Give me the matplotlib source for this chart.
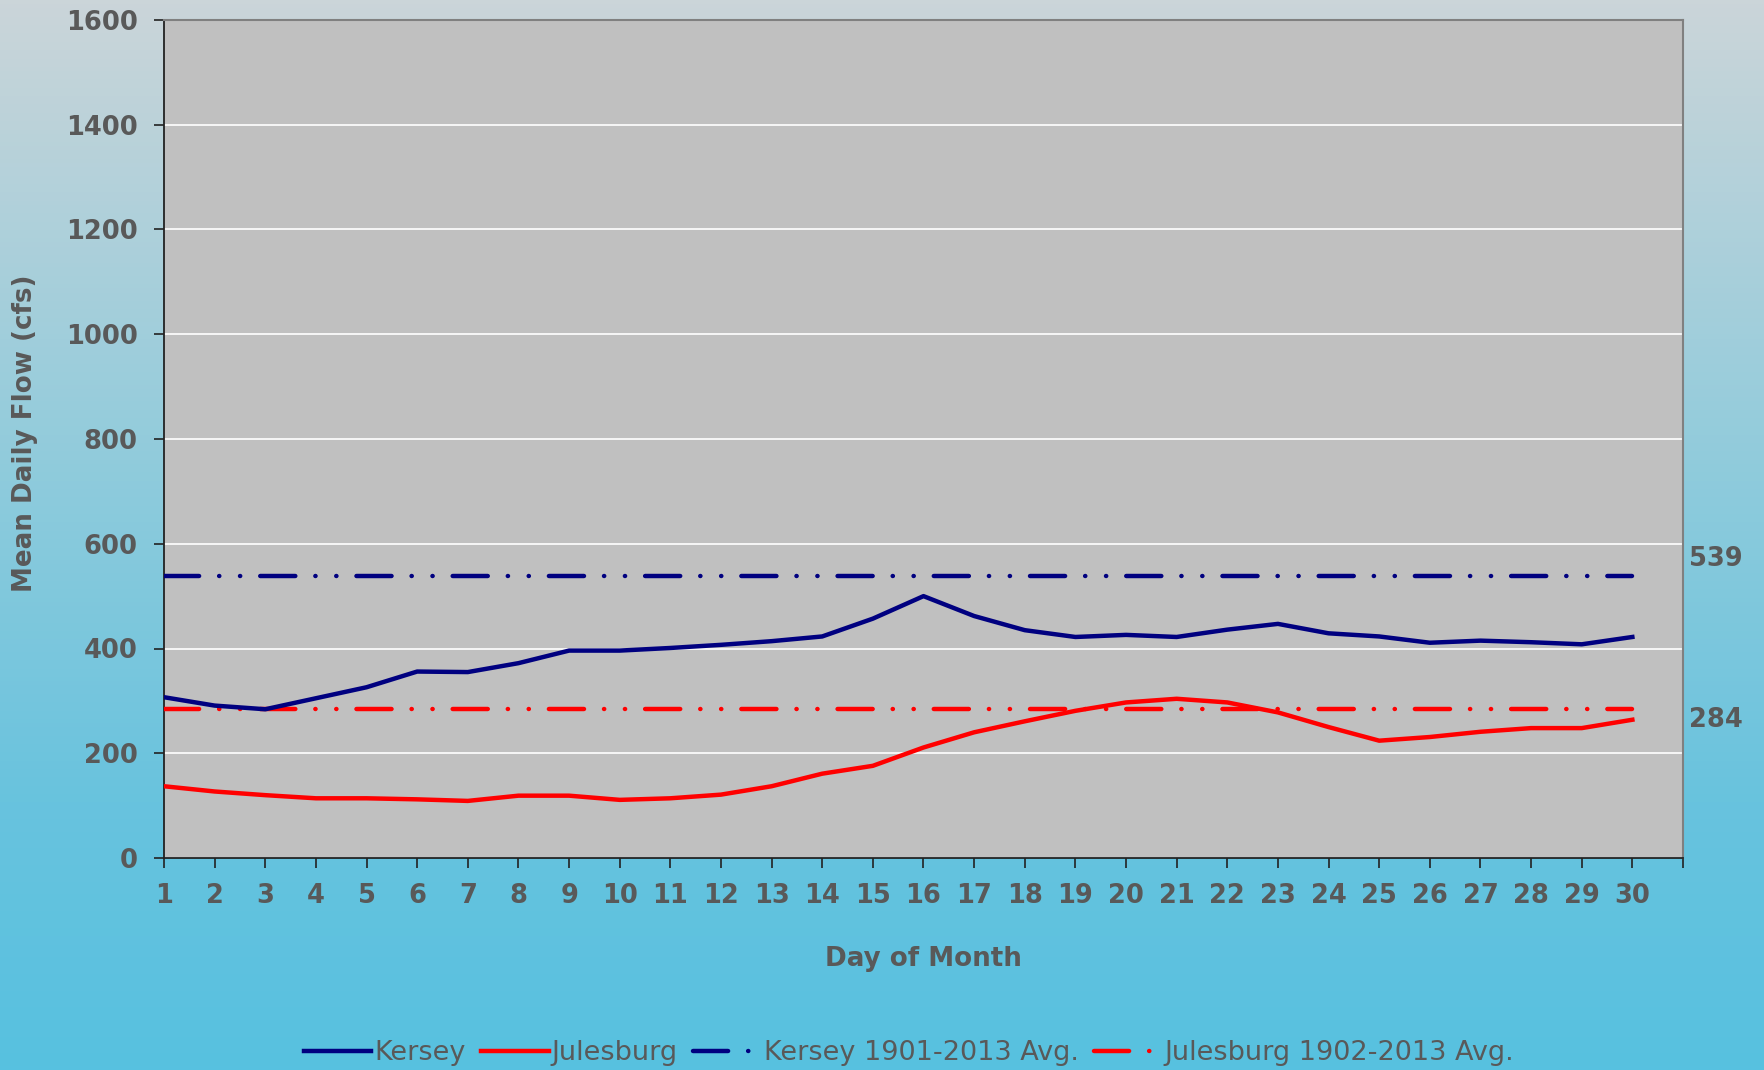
import numpy as np
import matplotlib
matplotlib.use("Agg")
from matplotlib import pyplot as plt
from matplotlib.colors import LinearSegmentedColormap

# data
days = list(range(1, 31))
kersey = [307, 291, 284, 305, 326, 356, 355, 372, 396, 396,
          401, 407, 414, 423, 457, 500, 462, 435, 422, 426,
          422, 436, 447, 429, 423, 411, 415, 412, 408, 422]
julesburg = [137, 127, 120, 114, 114, 112, 109, 119, 119, 111,
             114, 121, 137, 161, 176, 211, 240, 261, 281, 297,
             304, 297, 278, 250, 224, 231, 241, 248, 248, 264]
kersey_avg = 539
julesburg_avg = 284
yticks = [0, 200, 400, 600, 800, 1000, 1200, 1400, 1600]

navy = "#000080"
red = "#ff0000"
txt = "#595959"

W, H = 1765, 1070
fig = plt.figure(figsize=(W / 100, H / 100), dpi=100)

# gradient background
bg = fig.add_axes([0, 0, 1, 1], zorder=-10)
cmap = LinearSegmentedColormap.from_list(
    "bg", [(0.0, "#cbd5d9"), (0.45, "#8ecbdc"), (0.75, "#68c3de"), (1.0, "#57c1e0")])
grad = np.linspace(0, 1, 256).reshape(-1, 1)
bg.imshow(grad, aspect="auto", cmap=cmap, extent=[0, 1, 0, 1], origin="upper")
bg.axis("off")

ax = fig.add_axes([164 / W, 1 - 858 / H, (1683 - 164) / W, (858 - 20) / H])
ax.set_facecolor("#c0c0c0")

lw = 3.2
# long dash, dot, dot (units of line width)
dd = (0, (7.9, 4.5, 0.05, 4.65, 0.05, 4.5))
ax.plot(days, kersey, color=navy, lw=lw, label="Kersey", zorder=4)
ax.plot(days, julesburg, color=red, lw=lw, label="Julesburg", zorder=4)
ax.plot(days, [kersey_avg] * len(days), color=navy, lw=lw, ls=dd,
        dash_capstyle="round", label="Kersey 1901-2013 Avg.", zorder=3)
ax.plot(days, [julesburg_avg] * len(days), color=red, lw=lw, ls=dd,
        dash_capstyle="round", label="Julesburg 1902-2013 Avg.", zorder=3)

ax.set_xlim(1, 31)
ax.set_ylim(0, 1600)
ax.set_xticks(range(1, 32))
ax.set_xticklabels([str(d) for d in days] + [""])
ax.set_yticks(yticks)
ax.yaxis.grid(True, color="white", lw=1.2)
ax.set_axisbelow(True)

for s in ["left", "bottom"]:
    ax.spines[s].set_color("#222222")
    ax.spines[s].set_linewidth(1.3)
for s in ["top", "right"]:
    ax.spines[s].set_color("#808080")
    ax.spines[s].set_linewidth(1.5)

ax.tick_params(axis="both", direction="out", length=7, width=1.2, color="#222222",
               labelcolor=txt, labelsize=18.5)
ax.tick_params(axis="x", pad=11)
ax.tick_params(axis="y", pad=12)
for lab in ax.get_xticklabels() + ax.get_yticklabels():
    lab.set_fontweight("bold")

# value labels at the right of the plot
ax.annotate(str(kersey_avg), xy=(1.0, kersey_avg), xycoords=("axes fraction", "data"),
            xytext=(6, 17), textcoords="offset pixels", va="center", ha="left",
            fontsize=18.5, fontweight="bold", color=txt)
ax.annotate(str(julesburg_avg), xy=(1.0, julesburg_avg), xycoords=("axes fraction", "data"),
            xytext=(6, -11), textcoords="offset pixels", va="center", ha="left",
            fontsize=18.5, fontweight="bold", color=txt)

fig.text(25 / W, 1 - 433 / H, "Mean Daily Flow (cfs)", rotation=90, ha="center", va="center",
         fontsize=18.8, fontweight="bold", color=txt)
fig.text(923 / W, 1 - 959 / H, "Day of Month", ha="center", va="center",
         fontsize=18.8, fontweight="bold", color=txt)

fig.legend(loc="center", bbox_to_anchor=(909 / W, 1 - 1053 / H), ncol=4, frameon=False,
           fontsize=19.5, labelcolor=txt, handlelength=2.5, handletextpad=0.12,
           columnspacing=0.55, borderpad=0)

plt.savefig("out.png", dpi=100)
